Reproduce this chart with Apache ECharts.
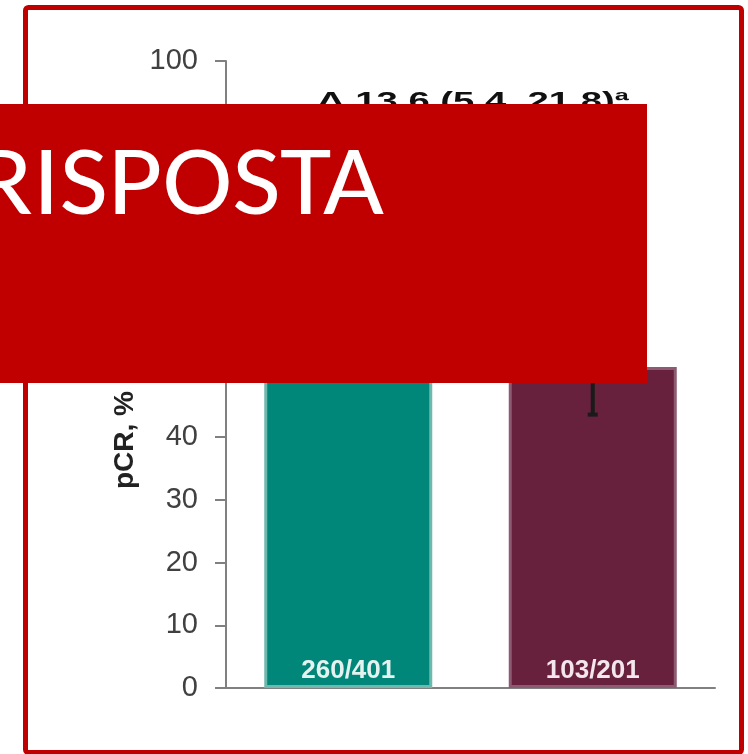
<!DOCTYPE html>
<html>

<head>
    <meta charset="utf-8">
    <title>pCR</title>
    <script src="https://cdn.jsdelivr.net/npm/echarts@6/dist/echarts.min.js"></script>
    <style>
        html, body { margin: 0; padding: 0; background: #fff; }
    </style>
</head>

<body>
    <div id="main" style="width: 748px;height:754px;"></div>
    <script type="text/javascript">
        // dati
        var groups = ['braccio 1', 'braccio 2'];
        var pcrValues = [64.8, 51.2];
        var ratioLabels = ['260/401', '103/201'];
        var ciLow = [58.0, 43.6];
        var ciHigh = [71.0, 58.6];
        var yMin = 0, yMax = 100, yStep = 10;
        var deltaText = 'Δ 13.6 (5.4, 21.8)ª';
        var yName = 'pCR, %';
        var bannerText = 'RISPOSTA';

        var barColors = ['#00877a', '#67213c'];
        var barEdges = ['#6fb8ae', '#8d5a72'];
        var labelColors = ['#e4f3f0', '#f3e6ec'];

        var red = '#c00000';

        // misura del testo per adattare la larghezza della scritta
        function textWidth(str, font) {
            var ctx = document.createElement('canvas').getContext('2d');
            ctx.font = font;
            return ctx.measureText(str).width;
        }
        var bannerFont = 'normal 98px Carlito, Lato, sans-serif';
        var bannerScale = 351 / textWidth('ISPOSTA', bannerFont);
        var deltaFont = 'bold 24px "Liberation Sans", Arial, sans-serif';
        var deltaScale = 312 / textWidth(deltaText, deltaFont);

        var myChart = echarts.init(document.getElementById('main'));

        var barData = pcrValues.map(function (v, i) {
            return {
                value: v,
                itemStyle: { color: barColors[i], borderColor: barEdges[i], borderWidth: 3 },
                label: { color: labelColors[i] }
            };
        });

        var option = {
            backgroundColor: '#ffffff',
            animation: false,
            grid: { left: 226, right: 33, top: 61, bottom: 66 },
            xAxis: {
                type: 'category',
                data: groups,
                axisLine: { lineStyle: { color: '#808080', width: 2 } },
                axisTick: { show: false },
                axisLabel: { show: false }
            },
            yAxis: {
                type: 'value',
                min: yMin,
                max: yMax,
                interval: yStep,
                splitLine: { show: false },
                axisLine: { show: true, lineStyle: { color: '#808080', width: 2 } },
                axisTick: { show: true, length: 11, lineStyle: { color: '#808080', width: 2 } },
                axisLabel: {
                    margin: 28,
                    color: '#404040',
                    fontSize: 29,
                    fontFamily: '"Liberation Sans", Arial, sans-serif'
                }
            },
            series: [{
                type: 'bar',
                data: barData,
                barWidth: 168,
                label: {
                    show: true,
                    position: 'insideBottom',
                    distance: 4,
                    fontSize: 26,
                    fontWeight: 'bold',
                    fontFamily: '"Liberation Sans", Arial, sans-serif',
                    formatter: function (p) { return ratioLabels[p.dataIndex]; }
                }
            }, {
                type: 'custom',
                data: groups.map(function (g, i) { return [i, ciLow[i], ciHigh[i]]; }),
                renderItem: function (params, api) {
                    var lo = api.coord([api.value(0), api.value(1)]);
                    var hi = api.coord([api.value(0), api.value(2)]);
                    var st = { stroke: '#1a1a1a', lineWidth: 4 };
                    return {
                        type: 'group',
                        children: [
                            { type: 'line', shape: { x1: lo[0], y1: lo[1], x2: hi[0], y2: hi[1] }, style: st },
                            { type: 'line', shape: { x1: lo[0] - 5, y1: lo[1], x2: lo[0] + 5, y2: lo[1] }, style: st },
                            { type: 'line', shape: { x1: hi[0] - 5, y1: hi[1], x2: hi[0] + 5, y2: hi[1] }, style: st }
                        ]
                    };
                },
                z: 5
            }],
            graphic: [{
                type: 'text',
                x: 317,
                y: 90,
                scaleX: deltaScale,
                style: {
                    text: deltaText,
                    font: deltaFont,
                    fill: '#111',
                    align: 'left',
                    verticalAlign: 'top'
                },
                z: 10
            }, {
                type: 'text',
                x: 125,
                y: 440,
                rotation: Math.PI / 2,
                style: {
                    text: yName,
                    font: 'bold 28px "Liberation Sans", Arial, sans-serif',
                    fill: '#222',
                    align: 'center',
                    verticalAlign: 'middle'
                },
                z: 10
            }, {
                type: 'rect',
                shape: { x: 25.5, y: 7.5, width: 716, height: 745, r: 3 },
                style: { fill: null, stroke: red, lineWidth: 5 },
                z: 20
            }, {
                type: 'rect',
                shape: { x: -2, y: 104, width: 649, height: 279 },
                style: { fill: red },
                z: 30
            }, {
                type: 'text',
                x: 384,
                y: 189,
                scaleX: bannerScale,
                style: {
                    text: bannerText,
                    font: bannerFont,
                    fill: '#ffffff',
                    align: 'right',
                    verticalAlign: 'middle'
                },
                z: 31
            }]
        };

        myChart.setOption(option);
    </script>
</body>

</html>
